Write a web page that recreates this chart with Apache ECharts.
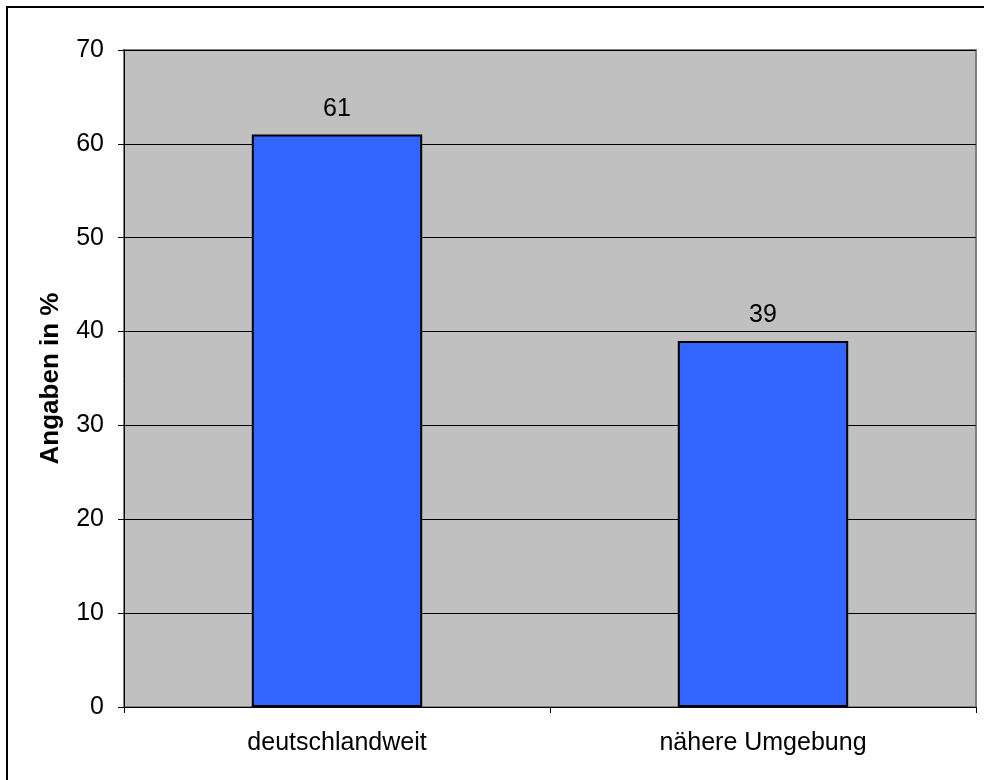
<!DOCTYPE html>
<html>
<head>
<meta charset="utf-8">
<script src="https://cdn.jsdelivr.net/npm/echarts@6/dist/echarts.min.js"></script>
<style>
  html, body { margin: 0; padding: 0; background: #fff; }
  #chart { width: 984px; height: 780px; }
</style>
</head>
<body>
<div id="chart"></div>
<script>
// Regional scope of answers, share in percent
const categories = ['deutschlandweit', 'nähere Umgebung'];
const values = [61, 39];
const yTicks = { min: 0, max: 70, interval: 10 };

const chart = echarts.init(document.getElementById('chart'), null, { renderer: 'canvas' });
const font = 'Liberation Sans, Arial, sans-serif';

chart.setOption({
  animation: false,
  backgroundColor: '#ffffff',
  graphic: [
    {
      // frame around the whole chart
      type: 'rect',
      shape: { x: 7, y: 7, width: 1000, height: 800 },
      style: { fill: 'none', stroke: '#000', lineWidth: 2 },
      z: 100
    }
  ],
  grid: {
    left: 124, right: 8, top: 50, bottom: 73,
    show: true,
    backgroundColor: '#c0c0c0',
    borderColor: '#808080',
    borderWidth: 2
  },
  xAxis: {
    type: 'category',
    data: categories,
    axisLine: { lineStyle: { color: '#000', width: 1 } },
    axisTick: { show: true, length: 6, lineStyle: { color: '#000' } },
    axisLabel: { color: '#000', fontFamily: font, fontSize: 25, margin: 24 }
  },
  yAxis: {
    type: 'value',
    min: yTicks.min, max: yTicks.max, interval: yTicks.interval,
    name: 'Angaben in %',
    nameLocation: 'middle',
    nameGap: 60,
    nameTextStyle: { color: '#000', fontFamily: font, fontSize: 26, fontWeight: 'bold' },
    axisLine: { show: true, lineStyle: { color: '#000', width: 1 } },
    axisTick: { show: true, length: 6, lineStyle: { color: '#000' } },
    axisLabel: { color: '#000', fontFamily: font, fontSize: 25, margin: 20 },
    splitLine: { show: true, lineStyle: { color: '#000', width: 1 } }
  },
  series: [{
    type: 'bar',
    data: values,
    barWidth: '40%',
    itemStyle: { color: '#3366ff', borderColor: '#000', borderWidth: 2 },
    label: {
      show: true, position: 'top', distance: 13,
      color: '#000', fontFamily: font, fontSize: 25
    }
  }]
});
</script>
</body>
</html>
